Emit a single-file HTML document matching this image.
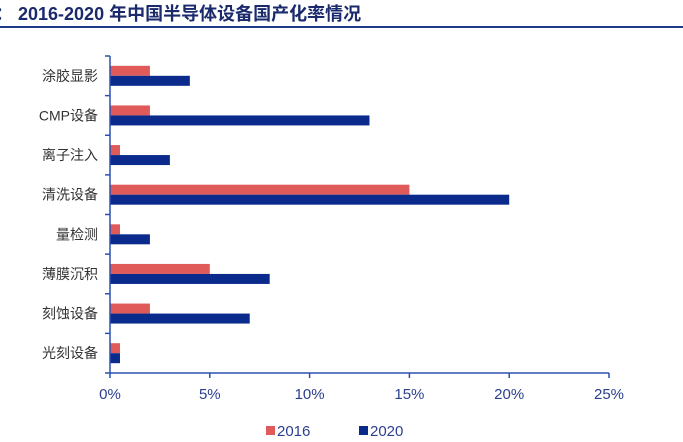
<!DOCTYPE html>
<html><head><meta charset="utf-8"><style>
body{margin:0;background:#fff;width:683px;height:437px;overflow:hidden;font-family:"Liberation Sans","Noto Sans CJK SC",sans-serif}
</style></head><body>
<svg width="683" height="437" xmlns="http://www.w3.org/2000/svg">
<text x="-5" y="20" font-size="18" font-weight="bold" fill="#1a2a6c" font-family="Liberation Sans, Noto Sans CJK SC, sans-serif">： 2016-2020 年中国半导体设备国产化率情况</text>
<rect x="0" y="26" width="683" height="2" fill="#1f3a8a"/>
<g id="plot"></g>
</svg>
<script>
const categories=["涂胶显影","CMP设备","离子注入","清洗设备","量检测","薄膜沉积","刻蚀设备","光刻设备"];
const values2016=[2,2,0.5,15,0.5,5,2,0.5];
const values2020=[4,13,3,20,2,8,7,0.5];
const tickValues=[0,5,10,15,20,25];
const tickLabels=["0%","5%","10%","15%","20%","25%"];
const NS="http://www.w3.org/2000/svg";
const g=document.getElementById('plot');
const x0=110,x1=609,yTop=56,yBot=373,xMax=25;
const band=(yBot-yTop)/categories.length;
const xs=v=>x0+v/xMax*(x1-x0);
function mk(t,a){const e=document.createElementNS(NS,t);for(const k in a)e.setAttribute(k,a[k]);g.appendChild(e);return e;}
categories.forEach((c,i)=>{
  const cy=yTop+band*i+band/2;
  let r=mk('rect',{x:x0,y:cy-10,width:xs(values2016[i])-x0,height:10,fill:'#e05a5a'});
  
  
  r=mk('rect',{x:x0,y:cy,width:xs(values2020[i])-x0,height:10,fill:'#0a2a8c'});
  
  
  const t=mk('text',{x:98,y:cy+5,'text-anchor':'end','font-size':14,fill:'#333'});
  t.textContent=c;
  
  
});
for(let i=0;i<=categories.length;i++){
  const y=yTop+band*i;
  const tk=mk('line',{x1:x0-5,x2:x0,y1:y,y2:y,stroke:'#2b50b0','stroke-width':1.5});
  
  
}
let a=mk('line',{x1:x0,x2:x0,y1:yTop,y2:yBot,stroke:'#2b50b0','stroke-width':1.5});


a=mk('line',{x1:x0,x2:x1,y1:yBot,y2:yBot,stroke:'#2b50b0','stroke-width':1.5});


tickValues.forEach((v,i)=>{
  const x=xs(v);
  const tk=mk('line',{x1:x,x2:x,y1:yBot,y2:yBot+5,stroke:'#2b50b0','stroke-width':1.5});
  
  
  const t=mk('text',{x:x,y:399,'text-anchor':'middle','font-size':15,fill:'#2b3f8f'});
  t.textContent=tickLabels[i];
  
  
});
[['2016','#e05a5a',266],['2020','#0a2a8c',359]].forEach(([l,c,x])=>{
  const r=mk('rect',{x:x,y:426,width:9,height:9,fill:c});
  
  
  const t=mk('text',{x:x+11,y:436,'font-size':15,fill:'#2b3f8f'});
  t.textContent=l;
  
  
});
</script>
</body></html>
